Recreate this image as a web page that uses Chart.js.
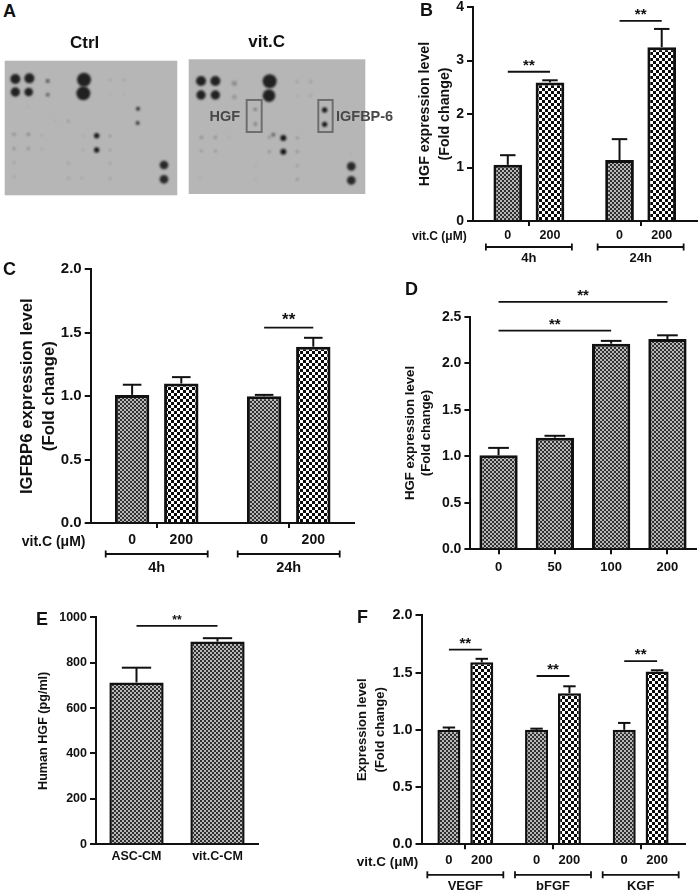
<!DOCTYPE html>
<html>
<head>
<meta charset="utf-8">
<title>vit.C growth factor panels</title>
<script src="https://cdn.jsdelivr.net/npm/chart.js@4"></script>
<style>
  html, body { margin: 0; padding: 0; background: #fff; }
  #page { position: relative; width: 700px; height: 892px; overflow: hidden; }
  #page canvas { position: absolute; }
  .letter { position: absolute; font: bold 18px/18px "Liberation Sans", Arial, sans-serif; color: #111; }
</style>
</head>
<body>
<div id="page"></div>
<script>
/* data */
const doseLabels = ['0', '200'];

// B - HGF, time course
const timeGroups = ['4h', '24h'];
const hgfTimeCtrl = [1.05, 1.14];
const hgfTimeCtrlTop = [1.23, 1.53];
const hgfTimeVitc = [2.59, 3.25];
const hgfTimeVitcTop = [2.63, 3.59];

// C - IGFBP6, time course
const igfbpCtrl = [1.01, 1.00];
const igfbpCtrlTop = [1.09, 1.01];
const igfbpVitc = [1.10, 1.39];
const igfbpVitcTop = [1.15, 1.46];

// D - HGF, dose response
const doseCats = ['0', '50', '100', '200'];
const hgfDose = [1.01, 1.20, 2.21, 2.26];
const hgfDoseTop = [1.09, 1.22, 2.24, 2.30];

// E - HGF ELISA
const elisaCats = ['ASC-CM', 'vit.C-CM'];
const elisaHgf = [713, 893];
const elisaHgfTop = [778, 908];

// F - other factors
const factorGroups = ['VEGF', 'bFGF', 'KGF'];
const factorCtrl = [1.00, 1.00, 1.00];
const factorCtrlTop = [1.02, 1.01, 1.06];
const factorVitc = [1.59, 1.32, 1.51];
const factorVitcTop = [1.62, 1.38, 1.52];

// A - array spots as [x, y, radius, darkness] in membrane units
const ctrlSpots = [
  [46,237,15,.95],[88,235,15,.95],[46,276,14,.95],[86,276,13,.95],[143,243,6,.6],[143,284,6,.5],
  [252,239,21,.95],[250,280,21,.95],[414,326,6,.85],[413,369,6,.8],[290,407,8,1],[290,450,8,1],
  [492,495,13,.9],[492,538,13,.9],[42,403,5,.25],[85,403,5,.3],[42,446,4,.3],[85,446,4,.3],
  [125,405,3,.15],[125,448,3,.15],[165,363,3,.15],[205,364,4,.2],[330,240,4,.15],[372,240,4,.15],
  [330,408,4,.25],[330,450,4,.2],[42,487,4,.15],[42,530,4,.12],[205,490,4,.15],[205,535,4,.15],
  [330,490,4,.15],[330,535,4,.15],[245,535,3,.2],[250,407,3,.15],[250,450,3,.15],[372,283,3,.1],[330,283,3,.1],[85,320,3,.08]
];
const vitcSpots = [
  [603,243,15,.95],[646,243,15,.95],[603,285,14,.95],[646,285,14,.95],[703,250,8,.25],[703,291,7,.2],
  [809,244,21,.95],[807,287,19,.95],[766,328,5,.4],[766,372,5,.4],[974,330,8,1],[974,373,8,1],
  [850,414,9,1],[850,455,9,1],[1054,499,13,.9],[1054,541,13,.9],[820,404,6,.5],
  [604,412,5,.25],[646,412,5,.25],[604,453,4,.25],[646,453,4,.25],[686,412,3,.12],[808,412,4,.3],[808,455,4,.3],
  [892,414,4,.3],[892,455,4,.3],[892,245,4,.15],[932,245,4,.2],[892,287,3,.15],[932,287,4,.15],
  [892,497,4,.18],[892,538,4,.25],[766,497,3,.1],[766,538,3,.1],[600,535,3,.12],[1054,458,3,.1]
];
const vitcBoxes = [[740,300,785,396],[955,300,998,396]];

const FONT = '"Liberation Sans", Arial, sans-serif';
const page = document.getElementById('page');

function addCanvas(left, top, w, h) {
  const c = document.createElement('canvas');
  c.width = w; c.height = h;
  c.style.cssText = `left:${left}px;top:${top}px;width:${w}px;height:${h}px`;
  page.appendChild(c);
  return c;
}

function checker(cell, dark, light) {
  const p = document.createElement('canvas');
  p.width = p.height = cell * 2;
  const g = p.getContext('2d');
  g.fillStyle = light; g.fillRect(0, 0, cell * 2, cell * 2);
  g.fillStyle = dark; g.fillRect(0, 0, cell, cell); g.fillRect(cell, cell, cell, cell);
  return g.createPattern(p, 'repeat');
}
const finePattern = checker(2, '#303030', '#b8b8b8');
const coarsePattern = checker(3, '#0a0a0a', '#ffffff');

function barX(chart, ds, i) { return chart.getDatasetMeta(ds).data[i].x; }

/* error bars, significance lines and the rows under the axis */
const panelMarks = {
  id: 'panelMarks',
  afterDatasetsDraw(chart, args, opts) {
    const ctx = chart.ctx, y = chart.scales.y, x = chart.scales.x;
    const line = (x1, y1, x2, y2, w) => {
      ctx.lineWidth = w; ctx.beginPath(); ctx.moveTo(x1, y1); ctx.lineTo(x2, y2); ctx.stroke();
    };
    ctx.save();
    ctx.strokeStyle = '#111'; ctx.fillStyle = '#111';
    chart.data.datasets.forEach((d, ds) => {
      chart.getDatasetMeta(ds).data.forEach((bar, i) => {
        const top = y.getPixelForValue(d.tops[i]);
        const cap = bar.width * 0.27;
        line(bar.x, bar.y, bar.x, top, 2);
        line(bar.x - cap, top, bar.x + cap, top, 2);
      });
    });
    ctx.textAlign = 'center'; ctx.textBaseline = 'middle';
    (opts.sig || []).forEach(s => {
      const x1 = barX(chart, s.from[1], s.from[0]), x2 = barX(chart, s.to[1], s.to[0]);
      const ly = y.getPixelForValue(s.value);
      line(x1, ly, x2, ly, 1.8);
      ctx.font = `bold ${opts.starSize}px ${FONT}`;
      ctx.fillText('**', (x1 + x2) / 2, ly - opts.starGap);
    });
    if (opts.rows) {
      const r = opts.rows;
      ctx.font = `bold ${r.size}px ${FONT}`;
      chart.data.datasets.forEach((d, ds) => {
        chart.getDatasetMeta(ds).data.forEach(bar => ctx.fillText(doseLabels[ds], bar.x, y.bottom + r.doseY));
      });
      ctx.textAlign = 'left';
      ctx.font = `bold ${r.vitcSize}px ${FONT}`;
      ctx.fillText('vit.C (μM)', r.vitcX, y.bottom + r.vitcY);
      chart.data.labels.forEach((l, i) => {
        const cx = x.getPixelForTick(i), by = y.bottom + r.bracketY;
        line(cx - r.half, by, cx + r.half, by, 1.8);
        line(cx - r.half, by - 3.5, cx - r.half, by + 3.5, 1.8);
        line(cx + r.half, by - 3.5, cx + r.half, by + 3.5, 1.8);
      });
    }
    ctx.restore();
  }
};

/* pin the plot rectangle to page pixels */
function barPanel(p) {
  const c = addCanvas(p.left, p.top, p.w, p.h);
  const plotLeft = p.plot[0] - p.left, plotTop = p.plot[1] - p.top;
  const plotRight = p.plot[2] - p.left, plotBottom = p.plot[3] - p.top;
  return new Chart(c, {
    type: 'bar',
    data: {
      labels: p.labels,
      datasets: p.series.map(s => ({
        data: s.values, tops: s.tops, backgroundColor: s.fill,
        borderColor: '#111', borderWidth: p.border, borderSkipped: 'start',
        barPercentage: p.barPct, categoryPercentage: p.catPct
      }))
    },
    plugins: [panelMarks],
    options: {
      responsive: false, animation: false, devicePixelRatio: 1,
      layout: { autoPadding: false, padding: { left: 0, top: plotTop, right: p.w - plotRight, bottom: 0 } },
      events: [],
      plugins: {
        legend: { display: false }, tooltip: { enabled: false }, title: { display: false },
        panelMarks: { sig: p.sig, starSize: p.starSize, starGap: p.starGap, rows: p.rows }
      },
      scales: {
        x: {
          afterFit: s => { s.height = p.h - plotBottom; },
          grid: { offset: false, drawOnChartArea: false, drawTicks: p.xTick > 0, tickLength: p.xTick, color: '#111', lineWidth: 2 },
          border: { color: '#111', width: 2 },
          ticks: { color: '#111', padding: p.xLabelPad, maxRotation: 0, autoSkip: false, font: { family: FONT, weight: 'bold', size: p.xFont } }
        },
        y: {
          min: 0, max: p.yMax,
          afterFit: s => { s.width = plotLeft; },
          grid: { drawOnChartArea: false, tickLength: 6, color: '#111', lineWidth: 2 },
          border: { color: '#111', width: 2 },
          ticks: { stepSize: p.yStep, color: '#111', padding: 3, font: { family: FONT, weight: 'bold', size: p.yFont },
                   callback: v => v.toFixed(p.yDigits) },
          title: { display: true, text: p.yTitle, color: '#111', padding: { top: p.titlePad, bottom: 0 },
                   font: { family: FONT, weight: 'bold', size: p.titleSize, lineHeight: p.titleLine + 'px' } }
        }
      }
    }
  });
}

/* A: array membranes as bubble charts on a membrane-unit scale */
const membrane = {
  id: 'membrane',
  beforeDatasetsDraw(chart) {
    const ctx = chart.ctx, a = chart.chartArea;
    ctx.save();
    ctx.fillStyle = '#b6b6b6';
    ctx.fillRect(a.left, a.top, a.width, a.height);
    ctx.filter = 'blur(1.2px)';
  },
  afterDatasetsDraw(chart, args, opts) {
    const ctx = chart.ctx, x = chart.scales.x, y = chart.scales.y;
    ctx.restore();
    ctx.save();
    ctx.fillStyle = '#111'; ctx.textAlign = 'center'; ctx.textBaseline = 'middle';
    ctx.font = `bold 17px ${FONT}`;
    ctx.fillText(opts.title, opts.titleX - chart.canvas.offsetLeft, opts.titleY - chart.canvas.offsetTop);
    (opts.boxes || []).forEach(b => {
      ctx.strokeStyle = '#6e6e6e'; ctx.lineWidth = 2;
      const l = x.getPixelForValue(b[0]), t = y.getPixelForValue(b[1]);
      ctx.strokeRect(l, t, x.getPixelForValue(b[2]) - l, y.getPixelForValue(b[3]) - t);
    });
    if (opts.boxes) {
      ctx.fillStyle = '#484848'; ctx.font = `bold 14.5px ${FONT}`;
      ctx.textAlign = 'right';
      ctx.fillText('HGF', x.getPixelForValue(720), y.getPixelForValue(350));
      ctx.textAlign = 'left';
      ctx.fillText('IGFBP-6', x.getPixelForValue(1008), y.getPixelForValue(350));
    }
    ctx.restore();
  }
};

function blotPanel(b) {
  const c = addCanvas(b.left, 28, b.w, 172);
  return new Chart(c, {
    type: 'bubble',
    data: { datasets: [{
      data: b.spots.map(s => ({ x: s[0], y: s[1], r: s[2] / 3 })),
      backgroundColor: b.spots.map(s => `rgba(25,25,25,${s[3]})`),
      borderWidth: 0, clip: false
    }] },
    plugins: [membrane],
    options: {
      responsive: false, animation: false, devicePixelRatio: 1, events: [],
      layout: { autoPadding: false, padding: { left: b.rect[0] - b.left, top: b.rect[1] - 28, right: b.w - (b.rect[2] - b.left), bottom: 172 - (b.rect[3] - 28) } },
      plugins: { legend: { display: false }, tooltip: { enabled: false },
        membrane: { title: b.title, titleX: b.titleX, titleY: b.titleY, boxes: b.boxes } },
      scales: {
        x: { display: false, min: b.xRange[0], max: b.xRange[1] },
        y: { display: false, min: b.yRange[0], max: b.yRange[1], reverse: true }
      }
    }
  });
}

blotPanel({ left: 0, w: 185, rect: [4.7, 60.7, 177.3, 195.3], xRange: [14, 532], yRange: [182, 586],
  spots: ctrlSpots, title: 'Ctrl', titleX: 84.7, titleY: 43 });
blotPanel({ left: 185, w: 225, rect: [188.7, 59.3, 365.3, 194], xRange: [566, 1096], yRange: [178, 582],
  spots: vitcSpots, title: 'vit.C', titleX: 266.7, titleY: 42, boxes: vitcBoxes });

barPanel({ left: 410, top: -20, w: 290, h: 290, plot: [473, 7, 696.5, 221],
  labels: timeGroups,
  series: [
    { values: hgfTimeCtrl, tops: hgfTimeCtrlTop, fill: finePattern },
    { values: hgfTimeVitc, tops: hgfTimeVitcTop, fill: coarsePattern }
  ],
  border: 3, barPct: 0.68, catPct: 0.755, yMax: 4, yStep: 1, yDigits: 0, yFont: 14, xFont: 13, xTick: 5, xLabelPad: 25,
  yTitle: ['HGF expression level', '(Fold change)'], titleSize: 14.2, titleLine: 20, titlePad: 5,
  sig: [{ from: [0, 0], to: [0, 1], value: 2.79 }, { from: [1, 0], to: [1, 1], value: 3.74 }], starSize: 15, starGap: 6,
  rows: { size: 12.5, vitcSize: 12, doseY: 15, vitcY: 16, vitcX: 2, bracketY: 26, half: 43 } });

barPanel({ left: 0, top: 255, w: 355, h: 325, plot: [90.7, 269.3, 354.7, 523],
  labels: timeGroups,
  series: [
    { values: igfbpCtrl, tops: igfbpCtrlTop, fill: finePattern },
    { values: igfbpVitc, tops: igfbpVitcTop, fill: coarsePattern }
  ],
  border: 3, barPct: 0.70, catPct: 0.745, yMax: 2, yStep: 0.5, yDigits: 1, yFont: 15, xFont: 14.5, xTick: 5, xLabelPad: 31,
  yTitle: ['IGFBP6 expression level', '(Fold change)'], titleSize: 16.8, titleLine: 22, titlePad: 16,
  sig: [{ from: [1, 0], to: [1, 1], value: 1.54 }], starSize: 17, starGap: 7,
  rows: { size: 14, vitcSize: 14, doseY: 17, vitcY: 19, vitcX: 21.7, bracketY: 31, half: 51 } });

barPanel({ left: 390, top: 275, w: 310, h: 310, plot: [470.4, 316.7, 695.6, 549.3],
  labels: doseCats,
  series: [{ values: hgfDose, tops: hgfDoseTop, fill: finePattern }],
  border: 3, barPct: 0.68, catPct: 1, yMax: 2.5, yStep: 0.5, yDigits: 1, yFont: 14, xFont: 13, xTick: 5, xLabelPad: 5,
  yTitle: ['HGF expression level', '(Fold change)'], titleSize: 13.2, titleLine: 16, titlePad: 12,
  sig: [{ from: [0, 0], to: [3, 0], value: 2.66 }, { from: [0, 0], to: [2, 0], value: 2.35 }], starSize: 15, starGap: 6 });

barPanel({ left: 0, top: 600, w: 300, h: 280, plot: [96, 617.3, 258, 844.3],
  labels: elisaCats,
  series: [{ values: elisaHgf, tops: elisaHgfTop, fill: finePattern }],
  border: 2.5, barPct: 0.67, catPct: 1, yMax: 1000, yStep: 200, yDigits: 0, yFont: 12.5, xFont: 12.5, xTick: 0, xLabelPad: 5,
  yTitle: ['Human HGF (pg/ml)'], titleSize: 12.6, titleLine: 16, titlePad: 36,
  sig: [{ from: [0, 0], to: [1, 0], value: 962 }], starSize: 12, starGap: 5 });

barPanel({ left: 340, top: 600, w: 360, h: 292, plot: [421.5, 615.3, 684.5, 844.3],
  labels: factorGroups,
  series: [
    { values: factorCtrl, tops: factorCtrlTop, fill: finePattern },
    { values: factorVitc, tops: factorVitcTop, fill: coarsePattern }
  ],
  border: 2.5, barPct: 0.70, catPct: 0.75, yMax: 2, yStep: 0.5, yDigits: 1, yFont: 14.4, xFont: 13, xTick: 5, xLabelPad: 29,
  yTitle: ['Expression level', '(Fold change)'], titleSize: 13, titleLine: 18, titlePad: 13,
  sig: [{ from: [0, 0], to: [0, 1], value: 1.70 }, { from: [1, 0], to: [1, 1], value: 1.47 }, { from: [2, 0], to: [2, 1], value: 1.60 }],
  starSize: 15, starGap: 6,
  rows: { size: 13, vitcSize: 13.5, doseY: 16, vitcY: 18, vitcX: 16.7, bracketY: 30.5, half: 38 } });

/* panel letters */
[['A', 3, 2], ['B', 420, 1], ['C', 3, 260], ['D', 405, 280], ['E', 36, 610], ['F', 357, 608]].forEach(l => {
  const d = document.createElement('div');
  d.className = 'letter';
  d.textContent = l[0];
  d.style.left = l[1] + 'px';
  d.style.top = l[2] + 'px';
  page.appendChild(d);
});
</script>
</body>
</html>
